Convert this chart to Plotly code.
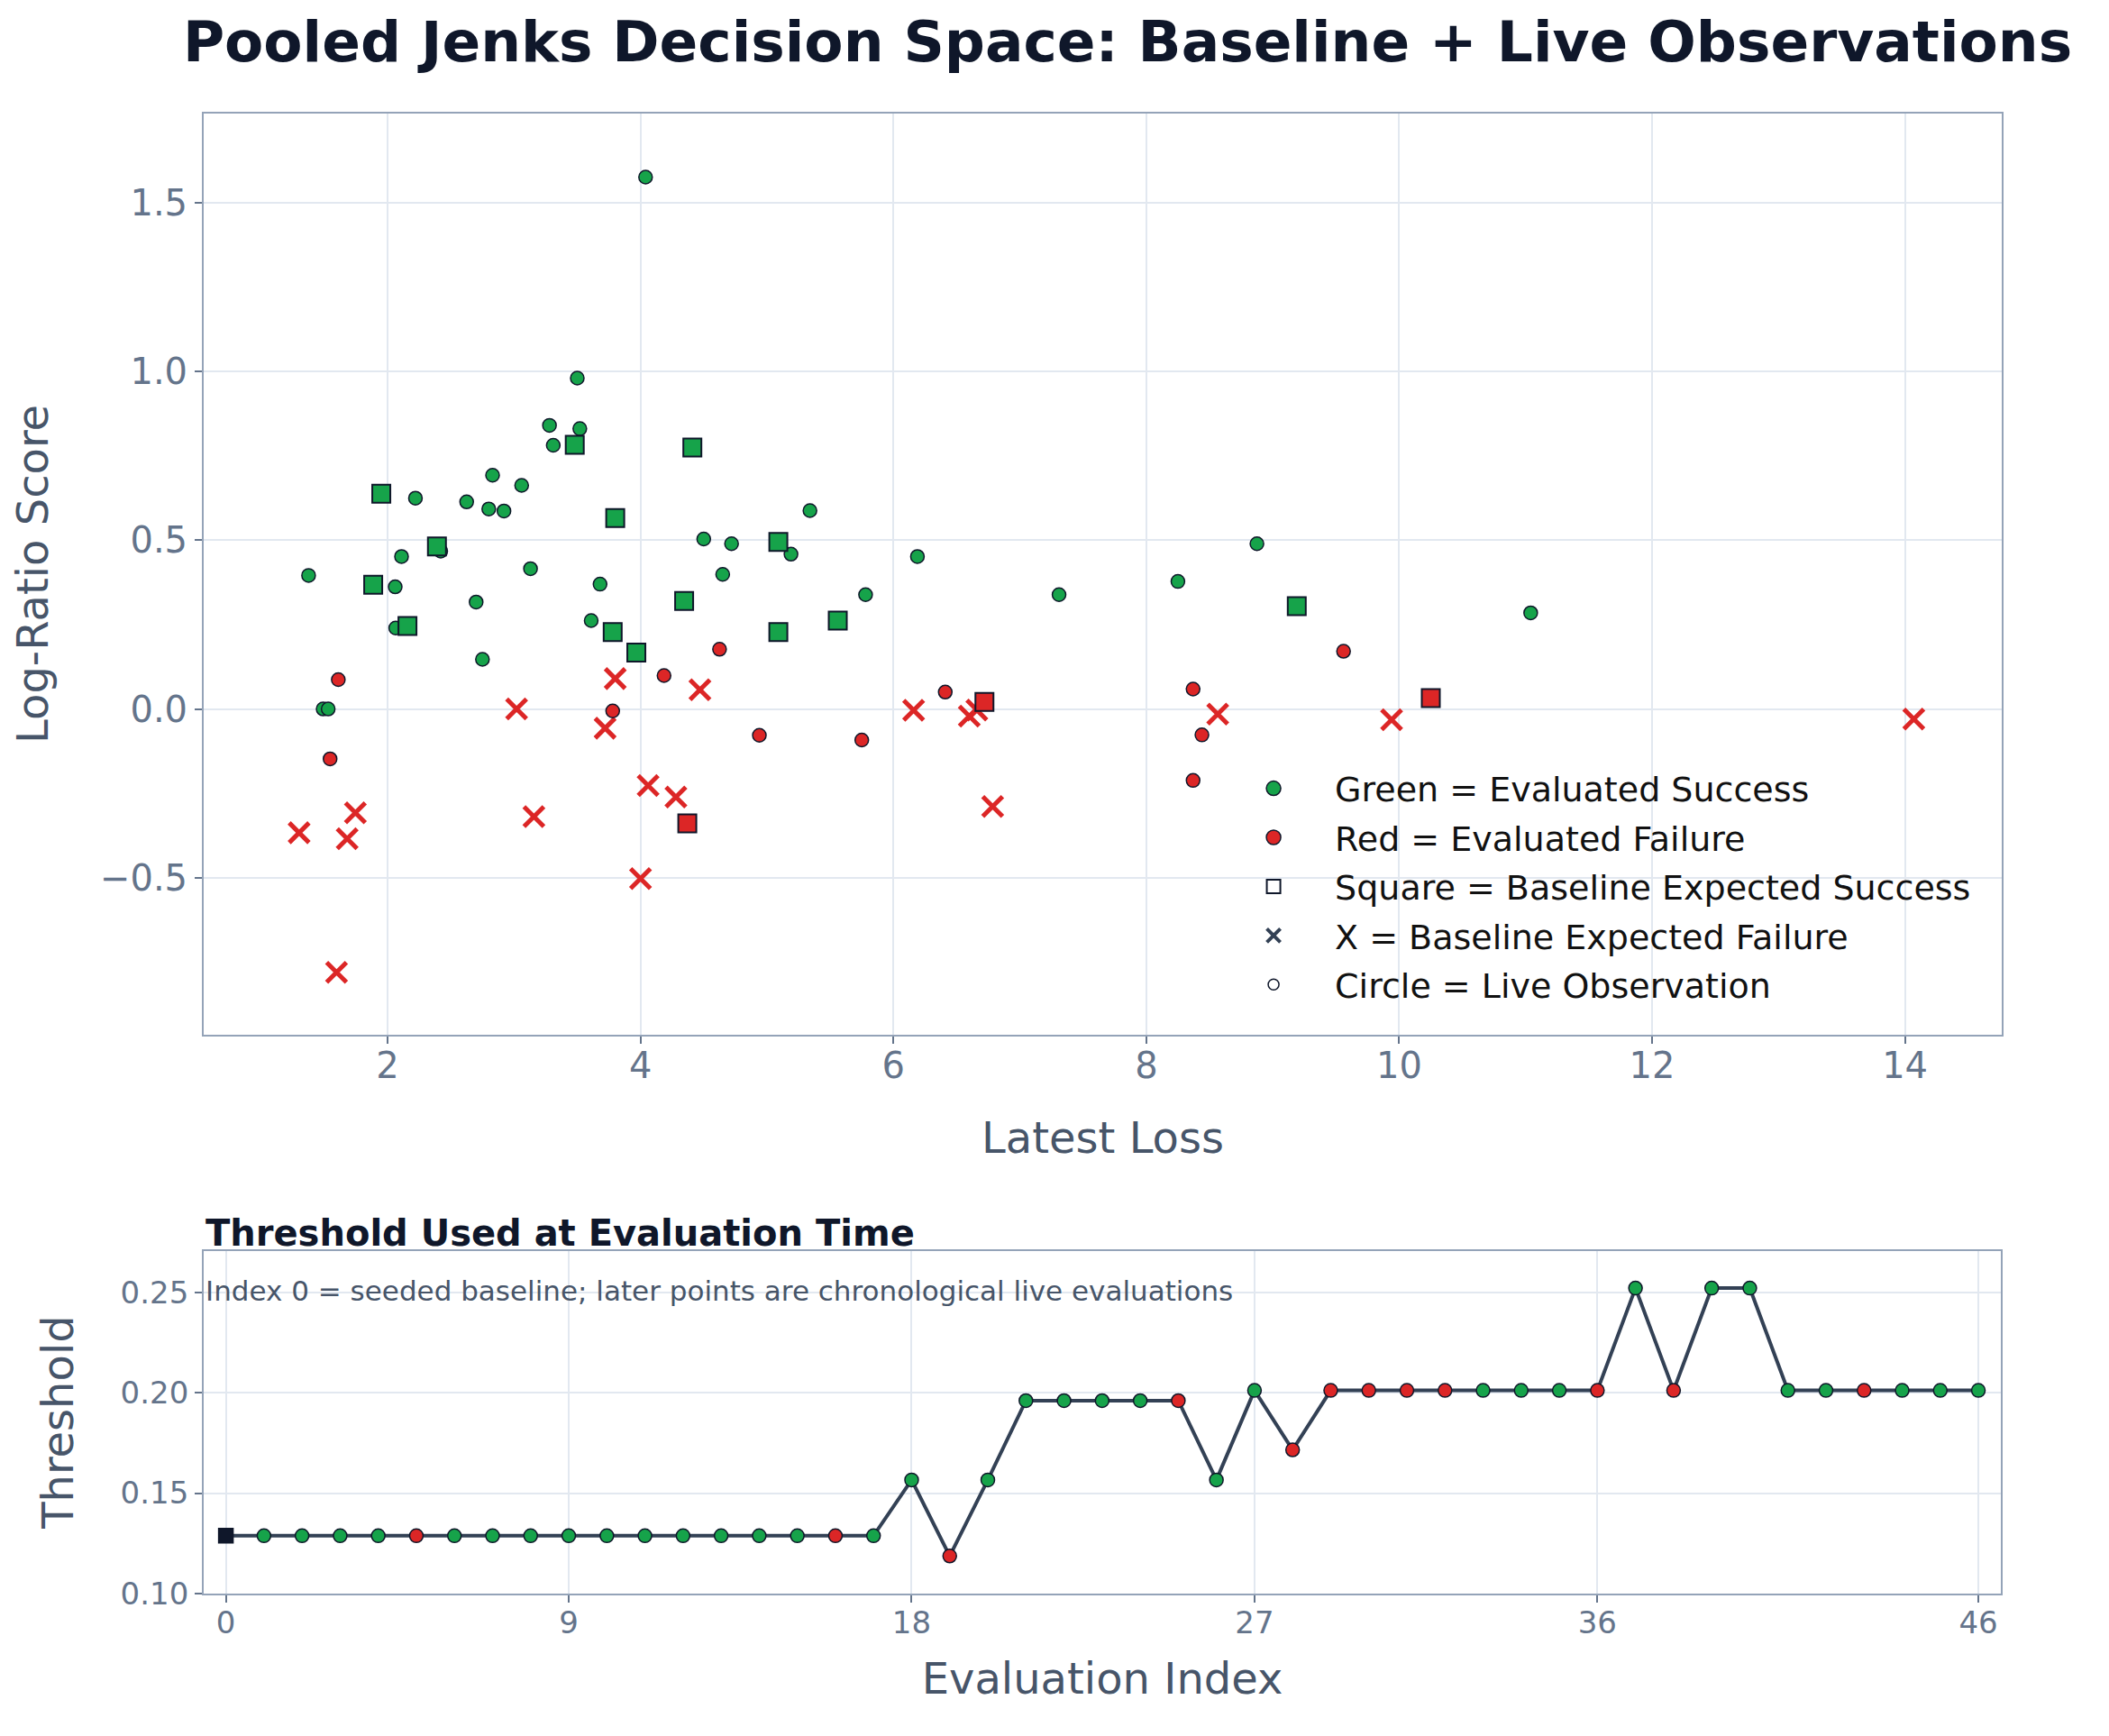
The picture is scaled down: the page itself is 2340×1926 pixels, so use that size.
import plotly.graph_objects as go

# --- main panel: pooled decision space ---
# live observations (circles), coloured by evaluated outcome
live_success_loss = [4.04, 3.50, 3.28, 3.52, 3.31, 2.83, 3.06, 2.22, 2.625, 2.80,
                     2.92, 2.42, 2.11, 3.13, 1.375, 2.06, 3.68, 2.70, 3.61, 2.064,
                     2.75, 1.49, 1.53, 5.34, 4.50, 4.72, 5.19, 6.19, 4.65, 5.78,
                     7.31, 8.875, 8.25, 11.04]
live_success_score = [1.577, 0.981, 0.841, 0.831, 0.782, 0.693, 0.663, 0.625, 0.614, 0.593,
                      0.587, 0.468, 0.452, 0.416, 0.396, 0.362, 0.370, 0.317, 0.262, 0.240,
                      0.147, 0.0, 0.0, 0.588, 0.504, 0.490, 0.459, 0.452, 0.399, 0.339,
                      0.339, 0.490, 0.378, 0.285]
live_failure_loss = [1.61, 3.78, 1.545, 4.186, 4.625, 6.41, 4.94, 5.75, 9.56, 8.37, 8.44, 8.37]
live_failure_score = [0.087, -0.006, -0.148, 0.099, 0.177, 0.050, -0.078, -0.092, 0.171, 0.059, -0.077, -0.212]

# baseline expected success (squares)
base_sq_green_loss = [3.48, 1.95, 3.80, 2.39, 1.886, 2.157, 3.78, 3.967, 4.41, 5.09, 4.345, 5.56, 5.09, 9.19]
base_sq_green_score = [0.783, 0.638, 0.566, 0.482, 0.368, 0.246, 0.228, 0.167, 0.775, 0.495, 0.320, 0.262, 0.228, 0.305]
base_sq_red_loss = [6.72, 4.37, 10.25]
base_sq_red_score = [0.021, -0.339, 0.032]

# baseline expected failure (x)
base_x_loss = [3.80, 3.02, 3.72, 4.47, 6.16, 6.60, 6.66, 1.745, 1.30, 1.68,
               3.157, 4.06, 4.00, 1.596, 4.28, 6.785, 8.565, 9.94, 14.07]
base_x_score = [0.090, 0.0, -0.057, 0.057, -0.004, -0.021, -0.003, -0.308, -0.367, -0.385,
                -0.319, -0.227, -0.503, -0.781, -0.261, -0.289, -0.015, -0.032, -0.030]

# --- lower panel: threshold used at evaluation time ---
eval_index = list(range(47))
threshold = [0.1287, 0.1287, 0.1287, 0.1287, 0.1287, 0.1287, 0.1287, 0.1287, 0.1287, 0.1287,
             0.1287, 0.1287, 0.1287, 0.1287, 0.1287, 0.1287, 0.1287, 0.1287, 0.1566, 0.1186,
             0.1566, 0.1962, 0.1962, 0.1962, 0.1962, 0.1962, 0.1566, 0.2013, 0.1716, 0.2013,
             0.2013, 0.2013, 0.2013, 0.2013, 0.2013, 0.2013, 0.2013, 0.2524, 0.2013, 0.2524,
             0.2524, 0.2013, 0.2013, 0.2013, 0.2013, 0.2013, 0.2013]
outcome = ["seed", "S", "S", "S", "S", "F", "S", "S", "S", "S",
           "S", "S", "S", "S", "S", "S", "F", "S", "S", "F",
           "S", "S", "S", "S", "S", "F", "S", "S", "F", "F",
           "F", "F", "F", "S", "S", "S", "F", "S", "F", "S",
           "S", "S", "S", "F", "S", "S", "S"]

GREEN = "#16a34a"
RED = "#dc2626"
EDGE = "#0f172a"
SLATE = "#334155"
FONT = "DejaVu Sans"

fig = go.Figure()

# main scatter, drawn x -> circles -> squares
fig.add_trace(go.Scatter(x=base_x_loss, y=base_x_score, mode="markers", showlegend=False,
                         marker=dict(symbol="x-thin", size=22, line=dict(color=RED, width=5))))
fig.add_trace(go.Scatter(x=live_success_loss, y=live_success_score, mode="markers", showlegend=False,
                         marker=dict(symbol="circle", size=15, color=GREEN, line=dict(color=EDGE, width=1.5))))
fig.add_trace(go.Scatter(x=live_failure_loss, y=live_failure_score, mode="markers", showlegend=False,
                         marker=dict(symbol="circle", size=15, color=RED, line=dict(color=EDGE, width=1.5))))
fig.add_trace(go.Scatter(x=base_sq_green_loss, y=base_sq_green_score, mode="markers", showlegend=False,
                         marker=dict(symbol="square", size=20, color=GREEN, line=dict(color=EDGE, width=2))))
fig.add_trace(go.Scatter(x=base_sq_red_loss, y=base_sq_red_score, mode="markers", showlegend=False,
                         marker=dict(symbol="square", size=20, color=RED, line=dict(color=EDGE, width=2))))

# legend keys
legend_items = [
    ("Green = Evaluated Success", dict(symbol="circle", size=16, color=GREEN, line=dict(color=EDGE, width=1.5))),
    ("Red = Evaluated Failure", dict(symbol="circle", size=16, color=RED, line=dict(color=EDGE, width=1.5))),
    ("Square = Baseline Expected Success", dict(symbol="square", size=15, color="white", line=dict(color=EDGE, width=2))),
    ("X = Baseline Expected Failure", dict(symbol="x-thin", size=15, line=dict(color=SLATE, width=4))),
    ("Circle = Live Observation", dict(symbol="circle", size=12, color="white", line=dict(color=EDGE, width=1.5))),
]
for i, (name, mk) in enumerate(legend_items):
    fig.add_trace(go.Scatter(x=[None], y=[None], mode="markers", name=name, marker=mk,
                             legendgroup=f"key{i}"))

# threshold panel
pt_colors = [EDGE if o == "seed" else (GREEN if o == "S" else RED) for o in outcome]
pt_symbols = ["square" if o == "seed" else "circle" for o in outcome]
pt_sizes = [16 if o == "seed" else 15 for o in outcome]
fig.add_trace(go.Scatter(x=eval_index, y=threshold, mode="lines+markers", showlegend=False,
                         xaxis="x2", yaxis="y2",
                         line=dict(color=SLATE, width=4),
                         marker=dict(symbol=pt_symbols, size=pt_sizes, color=pt_colors, opacity=1,
                                     line=dict(color=EDGE, width=1.5))))

axis_common = dict(showline=True, linecolor="#94a3b8", linewidth=2, mirror=True,
                   gridcolor="#e2e8f0", gridwidth=2, zeroline=False,
                   ticks="outside", ticklen=8, tickcolor="#64748b", tickwidth=2)

fig.update_layout(
    width=2340, height=1926,
    paper_bgcolor="white", plot_bgcolor="white",
    margin=dict(l=0, r=0, t=0, b=0),
    font=dict(family=FONT, color="#475569"),
    title=dict(text="Pooled Jenks Decision Space: Baseline + Live Observations",
               x=0.5312, xanchor="center", y=0.9803, yanchor="middle",
               font=dict(family=FONT, size=63, color=EDGE, weight="bold")),
    xaxis=dict(domain=[0.0932, 0.9457], anchor="y", range=[0.546, 14.765],
               tickvals=[2, 4, 6, 8, 10, 12, 14],
               tickfont=dict(size=40, color="#64748b"), ticklabelstandoff=-10,
               title=dict(text="Latest Loss", font=dict(size=48, color="#475569"), standoff=41),
               **axis_common),
    yaxis=dict(domain=[0.4019, 0.9382], anchor="x", range=[-0.966, 1.766],
               tickvals=[-0.5, 0.0, 0.5, 1.0, 1.5], tickformat=".1f",
               tickfont=dict(size=40, color="#64748b"),
               title=dict(text="Log-Ratio Score", font=dict(size=48, color="#475569"), standoff=61),
               **axis_common),
    xaxis2=dict(domain=[0.0932, 0.9453], anchor="y2", range=[-0.58, 46.59],
                tickvals=[0, 9, 18, 27, 36, 46],
                tickfont=dict(size=34, color="#64748b"), ticklabelstandoff=-6,
                title=dict(text="Evaluation Index", font=dict(size=48, color="#475569"), standoff=26),
                **axis_common),
    yaxis2=dict(domain=[0.0768, 0.2762], anchor="x2", range=[0.10, 0.2711],
                tickvals=[0.10, 0.15, 0.20, 0.25], tickformat=".2f",
                tickfont=dict(size=34, color="#64748b"),
                title=dict(text="Threshold", font=dict(size=48, color="#475569"), standoff=37),
                **axis_common),
    legend=dict(x=0.5714, xanchor="left", y=0.5617, yanchor="top",
                bgcolor="rgba(255,255,255,0)", itemwidth=126, tracegroupgap=2,
                font=dict(family=FONT, size=38, color="#111111")),
    annotations=[
        dict(text="Threshold Used at Evaluation Time", xref="paper", yref="paper",
             x=0.0932, xanchor="left", y=0.2866, yanchor="middle", showarrow=False,
             font=dict(family=FONT, size=40, color=EDGE, weight="bold")),
        dict(text="Index 0 = seeded baseline; later points are chronological live evaluations",
             xref="paper", yref="paper", x=0.0932, xanchor="left", y=0.2529, yanchor="middle",
             showarrow=False, font=dict(family=FONT, size=31, color="#475569")),
    ],
)

fig.write_html("out.html")
